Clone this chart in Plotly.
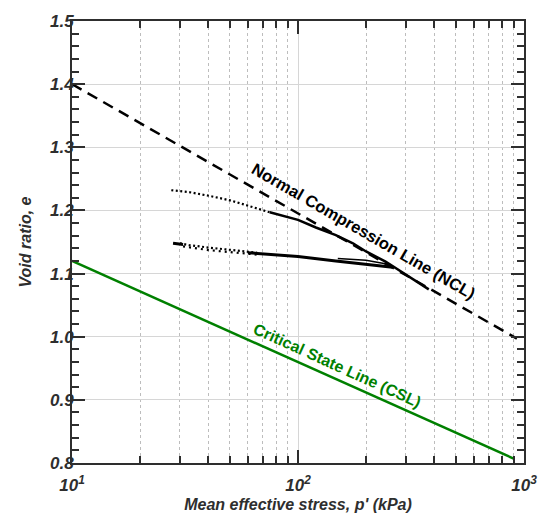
import plotly.graph_objects as go

# ---- data ----
ncl_p = [10, 930]
ncl_e = [1.400, 0.997]

csl_p = [10, 900]
csl_e = [1.120, 0.807]

upper_dot_p = [27.5, 33, 40.6, 50, 57, 66, 75]
upper_dot_e = [1.232, 1.229, 1.223, 1.216, 1.210, 1.203, 1.197]
upper_sol_p = [75, 85, 100, 120, 147, 175, 200, 244, 262, 300, 340, 379]
upper_sol_e = [1.197, 1.192, 1.185, 1.173, 1.161, 1.148, 1.135, 1.119, 1.112, 1.098, 1.086, 1.075]

lower_dot_a_p = [30, 33, 40.6, 50, 57, 66]
lower_dot_a_e = [1.148, 1.145, 1.141, 1.138, 1.136, 1.133]
lower_dot_b_p = [31, 35, 40.6, 50, 57, 66]
lower_dot_b_e = [1.143, 1.140, 1.137, 1.134, 1.132, 1.130]
lower_head_p = [28, 31]
lower_head_e = [1.148, 1.146]
lower_sol_p = [60, 75, 100, 147, 200, 230, 262]
lower_sol_e = [1.133, 1.130, 1.127, 1.120, 1.115, 1.112, 1.110]
wedge_p = [150, 200, 240, 262]
wedge_e = [1.124, 1.121, 1.116, 1.111]

x_tickvals = [10, 100, 1000]
x_ticktext = ["<b><i>10<sup>1</sup></i></b>", "<b><i>10<sup>2</sup></i></b>",
              "<b><i>10<sup>3</sup></i></b>"]
x_minor = [20, 30, 40, 50, 60, 70, 80, 90, 200, 300, 400, 500, 600, 700, 800, 900]
y_tickvals = [0.8, 0.9, 1.0, 1.1, 1.2, 1.3, 1.4, 1.5]
y_ticktext = ["<b><i>%.1f</i></b>" % v for v in y_tickvals]

FONT = "Arial, Liberation Sans, sans-serif"
AX = "#2e2e2e"
GREEN = "#008000"

fig = go.Figure()

fig.add_trace(go.Scatter(x=ncl_p, y=ncl_e, mode="lines",
                         line=dict(color="black", width=2.5, dash="11px,7px")))
fig.add_trace(go.Scatter(x=csl_p, y=csl_e, mode="lines",
                         line=dict(color=GREEN, width=2.5)))

dot = dict(color="black", width=2.2, dash="2px,2.5px")
fig.add_trace(go.Scatter(x=upper_dot_p, y=upper_dot_e, mode="lines", line=dot))
fig.add_trace(go.Scatter(x=upper_sol_p, y=upper_sol_e, mode="lines",
                         line=dict(color="black", width=2.5)))
fig.add_trace(go.Scatter(x=lower_dot_a_p, y=lower_dot_a_e, mode="lines", line=dot))
fig.add_trace(go.Scatter(x=lower_dot_b_p, y=lower_dot_b_e, mode="lines",
                         line=dict(color="black", width=2.2, dash="2px,4px")))
fig.add_trace(go.Scatter(x=lower_head_p, y=lower_head_e, mode="lines",
                         line=dict(color="black", width=3)))
fig.add_trace(go.Scatter(x=lower_sol_p, y=lower_sol_e, mode="lines",
                         line=dict(color="black", width=3)))
fig.add_trace(go.Scatter(x=wedge_p, y=wedge_e, mode="lines",
                         line=dict(color="black", width=1.5)))

fig.add_annotation(x=2.29, y=1.167, xref="x", yref="y",
                   text="<b>Normal Compression Line (NCL)</b>", showarrow=False,
                   textangle=30,
                   font=dict(family=FONT, size=16.5, color="black"))
fig.add_annotation(x=2.173, y=0.954, xref="x", yref="y",
                   text="<b>Critical State Line (CSL)</b>", showarrow=False,
                   textangle=24.4,
                   font=dict(family=FONT, size=16, color=GREEN))

tickfont = dict(family=FONT, size=17, color=AX)
titlefont = dict(family=FONT, size=16, color=AX)

fig.update_layout(
    width=549, height=523,
    margin=dict(l=72, r=24, t=13, b=59),
    paper_bgcolor="white", plot_bgcolor="white",
    showlegend=False,
    xaxis=dict(
        type="log", range=[1, 3],
        tickmode="array", tickvals=x_tickvals, ticktext=x_ticktext,
        ticks="inside", ticklen=13, tickwidth=1.5, tickcolor=AX,
        showline=True, linecolor=AX, linewidth=2, mirror="ticks",
        showgrid=True, gridcolor="#d6d6d6", gridwidth=1.2,
        tickfont=tickfont, ticklabelstandoff=6,
        minor=dict(tickvals=x_minor, ticks="inside", ticklen=7, tickwidth=1.5,
                   tickcolor=AX, showgrid=True, gridcolor="#bdbdbd",
                   griddash="dot", gridwidth=1),
        title=dict(text="<b><i>Mean effective stress, p' (kPa)</i></b>",
                   font=titlefont, standoff=4),
        zeroline=False,
    ),
    yaxis=dict(
        range=[0.8, 1.5], tickmode="array", tickvals=y_tickvals, ticktext=y_ticktext,
        ticks="inside", ticklen=13, tickwidth=1.5, tickcolor=AX,
        showline=True, linecolor=AX, linewidth=2, mirror="ticks",
        showgrid=True, gridcolor="#d6d6d6", gridwidth=1.2,
        tickfont=tickfont, ticklabelstandoff=-7,
        minor=dict(tick0=0.8, dtick=0.02, ticks="inside", ticklen=7, tickwidth=1.5,
                   tickcolor=AX, showgrid=False),
        title=dict(text="<b><i>Void ratio, e</i></b>", font=titlefont, standoff=14),
        zeroline=False,
    ),
)

fig.write_html("out.html")
